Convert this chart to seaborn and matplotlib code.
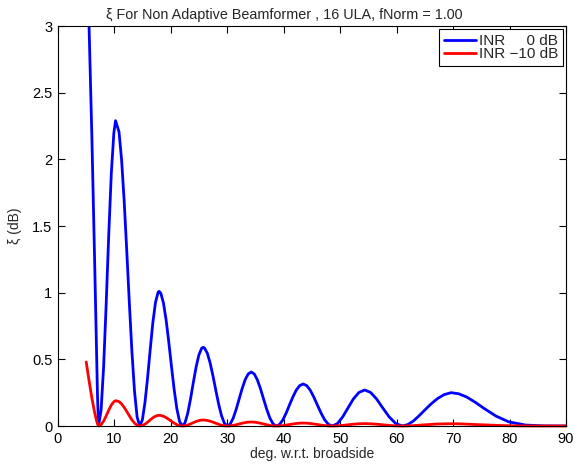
import matplotlib
matplotlib.use("Agg")
import matplotlib.pyplot as plt
import seaborn as sns
import pandas as pd

# angle grid (deg w.r.t. broadside)
deg = [5.0, 5.5, 6.0, 6.5, 6.8, 7.0, 7.181,
       7.632, 8.084, 8.537, 8.99, 9.443, 9.897, 10.2, 10.807, 11.263, 11.72,
       12.178, 12.636, 13.095, 13.555, 14.016, 14.478,
       14.939, 15.40, 15.868, 16.335, 16.803, 17.27, 17.74, 17.91, 18.21, 18.683,
       19.155, 19.63, 20.105, 20.584, 21.063, 21.544, 22.024,
       22.507, 22.99, 23.48, 23.97, 24.462, 24.953, 25.449, 25.71, 25.944, 26.445,
       26.945, 27.449, 27.953, 28.463, 28.972, 29.486, 30.0,
       30.52, 31.04, 31.565, 32.09, 32.62, 33.15, 33.69, 34.23, 34.775, 35.32,
       35.87, 36.42, 36.98, 37.545, 38.11, 38.68,
       39.26, 39.84, 40.425, 41.01, 41.61, 42.21, 42.82, 43.43, 44.055, 44.68,
       45.315, 45.95, 46.60, 47.25, 47.92, 48.59,
       49.50, 50.43, 51.37, 52.33, 53.32, 54.34, 55.37, 56.44, 57.54, 58.68, 59.85, 61.04,
       61.98, 62.95, 63.95, 64.99, 66.08, 67.21, 68.39, 69.64, 70.96, 72.38, 73.92,
       75.62, 77.57, 79.86, 82.84, 86.0, 90.0]

# xi (dB) for INR 0 dB
xi_inr0 = [3.9, 3.0, 2.17, 1.22, 0.62, 0.22, 0.0,
           0.117, 0.445, 0.916, 1.435, 1.893, 2.199, 2.29, 2.206, 1.998, 1.690,
           1.317, 0.925, 0.559, 0.261, 0.067, 0.0,
           0.045, 0.173, 0.360, 0.573, 0.775, 0.927, 1.004, 1.01, 0.996, 0.923,
           0.795, 0.629, 0.446, 0.272, 0.128, 0.033, 0.0,
           0.025, 0.097, 0.203, 0.325, 0.441, 0.532, 0.583, 0.59, 0.585, 0.547,
           0.474, 0.377, 0.269, 0.164, 0.077, 0.020, 0.0,
           0.0154, 0.0591, 0.125, 0.2025, 0.280, 0.346, 0.390, 0.405, 0.390, 0.346,
           0.280, 0.2025, 0.125, 0.0591, 0.0154, 0.0,
           0.012, 0.046, 0.0973, 0.1575, 0.2177, 0.269, 0.303, 0.315, 0.303, 0.269,
           0.2177, 0.1575, 0.0973, 0.046, 0.012, 0.0,
           0.018, 0.068, 0.135, 0.203, 0.252, 0.27, 0.252, 0.203, 0.135, 0.068, 0.018, 0.0,
           0.011, 0.037, 0.076, 0.12, 0.165, 0.205, 0.235, 0.25, 0.242, 0.218, 0.178,
           0.128, 0.075, 0.031, 0.007, 0.001, 0.0]

# xi (dB) for INR -10 dB
xi_inr10 = [0.48, 0.34, 0.21, 0.10, 0.045, 0.015, 0.0,
            0.0097, 0.037, 0.076, 0.119, 0.157, 0.182, 0.19, 0.183, 0.166, 0.140,
            0.109, 0.077, 0.046, 0.022, 0.0056, 0.0,
            0.0036, 0.0137, 0.0285, 0.0454, 0.0614, 0.0734, 0.0795, 0.08, 0.0789, 0.0731,
            0.0629, 0.0498, 0.0354, 0.0215, 0.0101, 0.0026, 0.0,
            0.0019, 0.0074, 0.0155, 0.0248, 0.0336, 0.0406, 0.0445, 0.045, 0.0446, 0.0417,
            0.0362, 0.0288, 0.0205, 0.0125, 0.0059, 0.0015, 0.0,
            0.0011, 0.0044, 0.0093, 0.015, 0.0207, 0.0256, 0.0289, 0.03, 0.0289, 0.0256,
            0.0207, 0.015, 0.0093, 0.0044, 0.0011, 0.0,
            0.0008, 0.0032, 0.0068, 0.011, 0.0152, 0.0188, 0.0212, 0.022, 0.0212, 0.0188,
            0.0152, 0.011, 0.0068, 0.0032, 0.0008, 0.0,
            0.001, 0.0045, 0.009, 0.0135, 0.0168, 0.018, 0.0168, 0.0135, 0.009, 0.0045, 0.001, 0.0,
            0.001, 0.003, 0.006, 0.009, 0.012, 0.015, 0.016, 0.017, 0.0165, 0.014, 0.011,
            0.0085, 0.005, 0.002, 0.0005, 0.0001, 0.0]

series_names = ["INR     0 dB", "INR \u221210 dB"]
series_colors = ["#0000ff", "#ff0000"]
x_ticks = [0, 10, 20, 30, 40, 50, 60, 70, 80, 90]
y_ticks = [0, 0.5, 1, 1.5, 2, 2.5, 3]
y_tick_labels = ["0", "0.5", "1", "1.5", "2", "2.5", "3"]

df = pd.concat([
    pd.DataFrame({"deg": deg, "xi": xi_inr0, "series": series_names[0]}),
    pd.DataFrame({"deg": deg, "xi": xi_inr10, "series": series_names[1]}),
], ignore_index=True)

sns.set_style("white")
plt.rcParams["font.family"] = ["Liberation Sans", "DejaVu Sans"]

fig = plt.figure(figsize=(5.74, 4.73), dpi=100)
ax = fig.add_axes([58 / 574, 1 - 426 / 473, (566 - 58) / 574, (426 - 26) / 473])

sns.lineplot(data=df, x="deg", y="xi", hue="series", hue_order=series_names,
             palette=series_colors, estimator=None, sort=False, linewidth=2,
             ax=ax)

# let the low red curve draw over the bottom spine like the original
ax.get_lines()[1].set_clip_on(False)

ax.set_xlim(0, 90)
ax.set_ylim(0, 3)
ax.set_xticks(x_ticks)
ax.set_xticklabels([str(v) for v in x_ticks])
ax.set_yticks(y_ticks)
ax.set_yticklabels(y_tick_labels)
ax.tick_params(direction="in", length=5, width=0.8, top=True, right=True,
               bottom=True, left=True, labelsize=10.5, pad=4, colors="black")
for s in ax.spines.values():
    s.set_color("black")
    s.set_linewidth(0.8)

ax.set_title("\u03be For Non Adaptive Beamformer , 16 ULA, fNorm = 1.00",
             fontsize=10.4, pad=5, x=0.445)
ax.set_xlabel("deg. w.r.t. broadside", fontsize=10, labelpad=1)
ax.set_ylabel("\u03be (dB)", fontsize=10, labelpad=7)

leg = ax.legend(loc="upper right", fontsize=11, frameon=True, fancybox=False,
                shadow=False, framealpha=1, edgecolor="black", handlelength=2.15,
                handletextpad=0.16, borderpad=0.32, labelspacing=-0.05,
                borderaxespad=0.2)
leg.get_frame().set_linewidth(0.8)
leg.set_title(None)

fig.savefig("out.png", dpi=100)
